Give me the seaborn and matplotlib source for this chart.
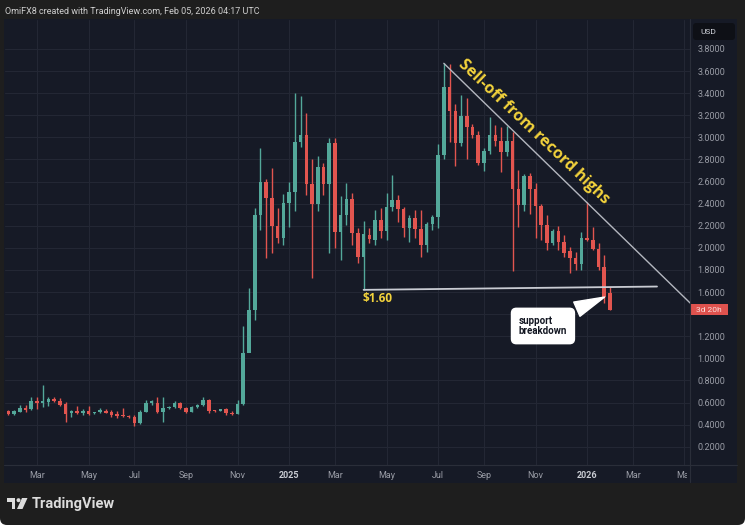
import numpy as np
import pandas as pd
import matplotlib.pyplot as plt
import matplotlib.patches as mpatches
from matplotlib.transforms import Bbox, TransformedBbox, blended_transform_factory
import seaborn as sns

# ------------------------------------------------
# weekly XRP/USD candles, first bar = week of 2024-01-29
# ------------------------------------------------
week_start = "2024-01-29"

opens = [0.527, 0.497, 0.518, 0.551, 0.539, 0.618, 0.593, 0.608, 0.630, 0.618,
         0.587, 0.503, 0.521, 0.503, 0.527, 0.503, 0.512, 0.527, 0.512, 0.497,
         0.488, 0.482, 0.473, 0.412, 0.518, 0.593, 0.593, 0.518, 0.548, 0.557,
         0.599, 0.548, 0.518, 0.557, 0.578, 0.624, 0.530, 0.527, 0.539, 0.509,
         0.497, 0.587, 1.052, 1.438, 2.298, 2.600, 2.449, 2.200, 2.087, 2.404,
         2.510, 2.960, 3.020, 2.578, 2.400, 2.730, 2.578, 2.947, 2.147, 2.300,
         2.440, 2.130, 1.915, 2.117, 2.071, 2.250, 2.150, 2.367, 2.430, 2.350,
         2.180, 2.270, 2.170, 2.030, 2.220, 2.280, 2.840, 3.459, 3.240, 2.947,
         3.190, 3.090, 3.020, 2.770, 2.880, 3.020, 2.970, 2.870, 2.970, 2.530,
         2.390, 2.650, 2.530, 2.380, 2.207, 2.047, 2.150, 2.050, 1.970, 1.910,
         1.850, 2.090, 2.070, 1.990, 1.830, 1.589]
highs = [0.535, 0.530, 0.578, 0.578, 0.648, 0.654, 0.760, 0.654, 0.648, 0.639,
         0.608, 0.533, 0.569, 0.539, 0.569, 0.518, 0.548, 0.539, 0.533, 0.521,
         0.548, 0.488, 0.488, 0.533, 0.624, 0.624, 0.648, 0.648, 0.569, 0.618,
         0.608, 0.557, 0.569, 0.590, 0.654, 0.630, 0.535, 0.545, 0.548, 0.527,
         0.620, 1.293, 1.634, 2.364, 2.900, 2.620, 2.726, 2.358, 2.490, 2.600,
         3.400, 3.370, 3.220, 2.800, 2.830, 2.770, 2.990, 2.990, 2.470, 2.590,
         2.494, 2.180, 2.240, 2.177, 2.343, 2.358, 2.494, 2.660, 2.479, 2.373,
         2.298, 2.343, 2.343, 2.237, 2.300, 2.940, 3.670, 3.660, 3.300, 3.384,
         3.360, 3.120, 3.060, 2.900, 3.180, 3.110, 3.090, 3.100, 3.050, 2.705,
         2.670, 2.680, 2.590, 2.400, 2.298, 2.170, 2.200, 2.117, 2.005, 1.966,
         2.140, 2.418, 2.190, 2.040, 1.936, 1.649]
lows = [0.490, 0.490, 0.512, 0.518, 0.530, 0.539, 0.563, 0.569, 0.608, 0.569,
        0.428, 0.473, 0.497, 0.488, 0.488, 0.497, 0.503, 0.509, 0.473, 0.458,
        0.467, 0.458, 0.388, 0.406, 0.518, 0.578, 0.509, 0.428, 0.539, 0.551,
        0.539, 0.503, 0.512, 0.550, 0.570, 0.503, 0.515, 0.520, 0.488, 0.488,
        0.494, 0.580, 1.290, 1.350, 2.160, 1.906, 1.950, 2.040, 2.030, 2.190,
        2.330, 2.910, 2.480, 1.725, 2.330, 2.480, 1.950, 2.000, 1.890, 2.207,
        2.030, 1.860, 1.620, 2.041, 2.026, 2.087, 2.071, 2.330, 2.237, 2.102,
        2.056, 2.087, 1.921, 1.966, 2.162, 2.180, 2.800, 2.960, 2.740, 2.920,
        2.800, 2.990, 2.750, 2.700, 2.850, 2.920, 2.690, 2.830, 1.790, 2.190,
        2.330, 2.310, 2.090, 2.070, 1.980, 2.030, 1.980, 1.920, 1.776, 1.800,
        1.800, 2.060, 1.980, 1.800, 1.504, 1.438]
closes = [0.494, 0.527, 0.551, 0.533, 0.618, 0.593, 0.618, 0.630, 0.618, 0.581,
          0.497, 0.521, 0.509, 0.527, 0.497, 0.512, 0.533, 0.509, 0.488, 0.479,
          0.479, 0.473, 0.412, 0.518, 0.593, 0.618, 0.518, 0.548, 0.557, 0.599,
          0.548, 0.518, 0.557, 0.578, 0.624, 0.527, 0.521, 0.539, 0.509, 0.497,
          0.587, 1.052, 1.438, 2.298, 2.600, 2.449, 2.200, 2.087, 2.404, 2.510,
          2.960, 3.020, 2.578, 2.397, 2.730, 2.578, 2.947, 2.147, 2.300, 2.440,
          2.130, 1.915, 2.126, 2.078, 2.250, 2.150, 2.367, 2.430, 2.350, 2.180,
          2.270, 2.170, 2.030, 2.220, 2.280, 2.840, 3.459, 3.240, 2.947, 3.190,
          3.090, 3.020, 2.770, 2.880, 3.020, 2.970, 2.870, 2.970, 2.530, 2.390,
          2.650, 2.530, 2.380, 2.207, 2.047, 2.150, 2.050, 1.957, 1.910, 1.850,
          2.090, 2.070, 1.990, 1.830, 1.558, 1.438]

price_ticks = [0.2, 0.4, 0.6, 0.8, 1.0, 1.2, 1.4, 1.6, 1.8, 2.0,
               2.2, 2.4, 2.6, 2.8, 3.0, 3.2, 3.4, 3.6, 3.8]
tick_months = ["2024-03", "2024-05", "2024-07", "2024-09", "2024-11", "2025-01",
               "2025-03", "2025-05", "2025-07", "2025-09", "2025-11", "2026-01",
               "2026-03", "2026-05"]
tick_labels = ["Mar", "May", "Jul", "Sep", "Nov", "2025",
               "Mar", "May", "Jul", "Sep", "Nov", "2026", "Mar", "May"]

# drawings
trend_x = [76, 119]
trend_y = [3.67, 1.50]
support_x = [62, 113.2]
support_y = [1.62, 1.65]

UP = "#53a89a"
DOWN = "#e2554f"
BG = "#161a26"
CARD = "#1e1e1e"
GRID = "#232734"
TXT = "#9a9da6"
YELLOW = "#f2d23c"

sns.set_theme(style="dark")
plt.rcParams["font.family"] = ["Roboto", "DejaVu Sans"]

W, H = 750, 529
fig = plt.figure(figsize=(W / 100, H / 100), dpi=100, facecolor="white")

# card + chart panel (inch coords), kept behind the axes
card = mpatches.FancyBboxPatch((0, 0.04), 7.45, 5.4,
                               boxstyle="round,pad=0,rounding_size=0.07",
                               transform=fig.dpi_scale_trans, fc=CARD, ec="none",
                               zorder=-3)
fig.add_artist(card)
panel = mpatches.Rectangle((0.04, (H - 482.5) / 100), 7.33, 4.64,
                           transform=fig.dpi_scale_trans, fc=BG, ec="none", zorder=-2)
fig.add_artist(panel)

ax = fig.add_axes([5 / W, 64 / H, 685 / W, 445 / H])
ax.set_facecolor(BG)

df = pd.DataFrame({"open": opens, "high": highs, "low": lows, "close": closes})
df["x"] = np.arange(len(df))
up = df["close"] >= df["open"]
colors = np.where(up, UP, DOWN)
bottoms = df[["open", "close"]].min(axis=1)
heights = (df["close"] - df["open"]).abs().clip(lower=0.007)

ax.vlines(df["x"], df["low"], df["high"], colors=colors, lw=1.0, zorder=3)
ax.bar(df["x"], heights, bottom=bottoms, width=0.62, color=colors, linewidth=0, zorder=4)

# trend line and support line
sns.lineplot(x=trend_x, y=trend_y, ax=ax, color="#b4b7bf", lw=1.0, zorder=5)
sns.lineplot(x=support_x, y=support_y, ax=ax, color="#c9ccd3", lw=1.3, zorder=5)

ax.text(91.6, 3.045, "Sell-off from record highs", rotation=-43.6,
        rotation_mode="anchor", ha="center", va="center", fontsize=11.5,
        fontweight="bold", family=["Open Sans", "DejaVu Sans"], color=YELLOW, zorder=6)
ax.text(64.4, 1.538, "$1.60", ha="center", va="center", fontsize=8.5,
        fontweight="bold", family=["Open Sans", "DejaVu Sans"], color=YELLOW, zorder=6)

ax.annotate("support\nbreakdown", xy=(104.5, 1.565), xytext=(93.3, 1.293),
            ha="center", va="center", multialignment="left", fontsize=7,
            fontweight="bold", color="#131722", linespacing=1.1, zorder=7,
            bbox=dict(boxstyle="round,pad=0.75,rounding_size=0.5", fc="white", ec="white"),
            arrowprops=dict(arrowstyle="wedge,tail_width=1.6,shrink_factor=0.5",
                            fc="white", ec="white", relpos=(0.8, 0.9)))

# axes limits / ticks
ax.set_xlim(-0.58, 118.96)
ax.set_ylim(0.035, 4.062)

bars = pd.date_range(week_start, periods=130, freq="7D")
tick_pos = [int(np.argmax(bars >= pd.Timestamp(m + "-01"))) for m in tick_months]
ax.set_xticks(tick_pos)
ax.set_xticklabels(tick_labels)
ax.yaxis.tick_right()
ax.set_yticks(price_ticks)
# 1.4000 sits under the countdown label
ax.set_yticklabels(["" if abs(v - 1.4) < 1e-9 else f"{v:.4f}" for v in price_ticks])
ax.tick_params(axis="x", length=0, pad=4, labelsize=6.5, labelcolor=TXT)
ax.tick_params(axis="y", length=0, pad=5.5, labelsize=6.5, labelcolor=TXT)
for lbl in ax.get_xticklabels():
    if lbl.get_text().isdigit():
        lbl.set_fontweight("bold")
        lbl.set_color("#c9ccd3")

ax.grid(True, color=GRID, lw=0.8)
for s in ax.spines.values():
    s.set_visible(False)

# last month label is cut by the price scale
clip = TransformedBbox(Bbox([[0, 0], [687 / W, 1]]), fig.transFigure)
last = ax.get_xticklabels()[-1]
last.set_clip_box(clip)
last.set_clip_on(True)

# separators of price / time scales
fig.add_artist(plt.Line2D([690 / W, 690 / W], [(H - 482) / H, (H - 19) / H],
                          transform=fig.transFigure, color="#2a2e39", lw=0.8))
fig.add_artist(plt.Line2D([4 / W, 737 / W], [64 / H, 64 / H],
                          transform=fig.transFigure, color="#2a2e39", lw=0.8))

# countdown label on the price scale
tr = blended_transform_factory(ax.transAxes, ax.transData)
ax.add_patch(mpatches.Rectangle((1.0, closes[-1] - 0.05), 38 / 685, 0.10,
                                transform=tr, fc="#df524e", ec="none",
                                clip_on=False, zorder=8))
ax.text(1.0 + 19 / 685, closes[-1], "3d 20h", transform=tr, ha="center",
        va="center", fontsize=6, color="#fbe0de", clip_on=False, zorder=9)

# USD box
fig.add_artist(mpatches.FancyBboxPatch((6.93, (H - 40) / 100), 0.42, 0.17,
                                       boxstyle="round,pad=0,rounding_size=0.03",
                                       transform=fig.dpi_scale_trans,
                                       fc="#0e1016", ec="none"))
fig.text(700 / W, 1 - 31.5 / H, "USD", fontsize=6, color="#d1d4dc", va="center")

# header and footer
fig.text(5 / W, 1 - 11 / H, "OmiFX8 created with TradingView.com, Feb 05, 2026 04:17 UTC",
         fontsize=6.5, color="#cfcfcf", va="center")
fig.text(32 / W, 1 - 504 / H, "TradingView", fontsize=10.5, fontweight="bold",
         color="#dcdcdc", va="center")


def px(x, y):
    return (x / 100, (H - y) / 100)


logo = "#dcdcdc"
fig.add_artist(mpatches.Polygon([px(7, 498), px(15, 498), px(15, 502), px(7, 502)],
                                transform=fig.dpi_scale_trans, fc=logo, ec="none"))
fig.add_artist(mpatches.Polygon([px(11.5, 498), px(15, 498), px(15, 509), px(11.5, 509)],
                                transform=fig.dpi_scale_trans, fc=logo, ec="none"))
fig.add_artist(mpatches.Circle(px(18.5, 500.2), 0.02,
                               transform=fig.dpi_scale_trans, fc=logo, ec="none"))
fig.add_artist(mpatches.Polygon([px(22, 498), px(27.5, 498), px(22.5, 509), px(17, 509)],
                                transform=fig.dpi_scale_trans, fc=logo, ec="none"))

fig.savefig("out.png", dpi=100, facecolor="white")
